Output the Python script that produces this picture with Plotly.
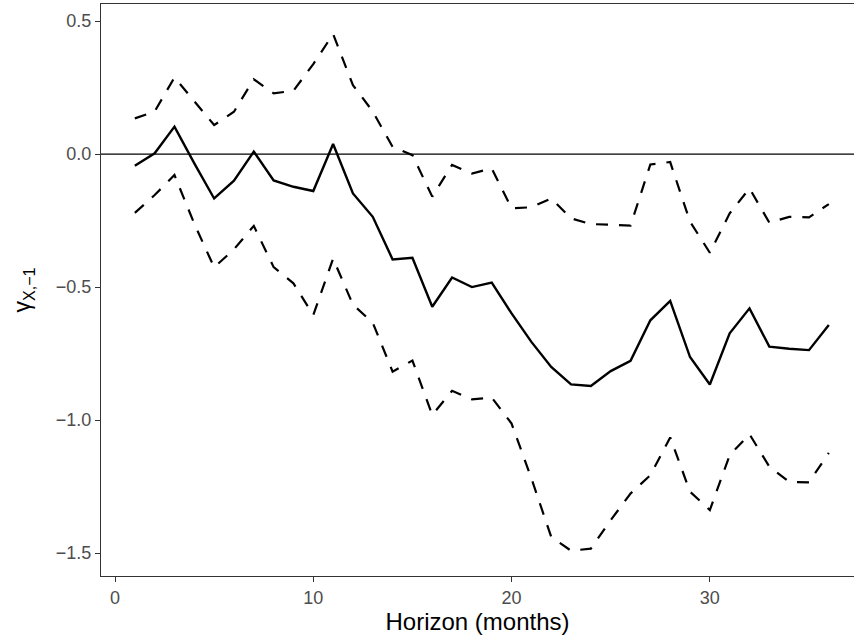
import plotly.graph_objects as go

horizon = list(range(1, 37))
estimate = [-0.044, 0.003, 0.103, -0.035, -0.167, -0.100, 0.009, -0.099, -0.123, -0.139,
            0.038, -0.148, -0.236, -0.396, -0.390, -0.574, -0.464, -0.500, -0.483, -0.599,
            -0.706, -0.800, -0.866, -0.872, -0.816, -0.777, -0.625, -0.552, -0.763, -0.866,
            -0.674, -0.580, -0.724, -0.732, -0.737, -0.643]
upper = [0.134, 0.160, 0.288, 0.200, 0.109, 0.159, 0.281, 0.228, 0.238, 0.338,
         0.451, 0.259, 0.160, 0.027, -0.004, -0.160, -0.041, -0.073, -0.054, -0.204,
         -0.200, -0.167, -0.242, -0.263, -0.265, -0.269, -0.039, -0.030, -0.254, -0.371,
         -0.223, -0.129, -0.258, -0.236, -0.238, -0.188]
lower = [-0.221, -0.154, -0.079, -0.262, -0.426, -0.358, -0.270, -0.425, -0.486, -0.605,
         -0.393, -0.566, -0.634, -0.818, -0.776, -0.981, -0.890, -0.922, -0.915, -1.013,
         -1.219, -1.439, -1.491, -1.483, -1.376, -1.276, -1.207, -1.065, -1.269, -1.338,
         -1.132, -1.053, -1.175, -1.232, -1.234, -1.123]

FONT = "Liberation Sans, Arial, sans-serif"

fig = go.Figure()
fig.add_hline(y=0, line=dict(color="black", width=1.2))
for ys in (upper, lower):
    fig.add_trace(go.Scatter(x=horizon, y=ys, mode="lines",
                             line=dict(color="black", width=2.2, dash="12px,11px"),
                             showlegend=False, hoverinfo="skip"))
fig.add_trace(go.Scatter(x=horizon, y=estimate, mode="lines",
                         line=dict(color="black", width=2.4),
                         showlegend=False, hoverinfo="skip"))

axis_common = dict(showgrid=False, zeroline=False, showline=True, linecolor="#333333",
                   linewidth=1.1, ticks="outside", ticklen=5, tickcolor="#333333",
                   tickwidth=1.1, tickfont=dict(family=FONT, size=18, color="#4d4d4d"))
fig.update_layout(
    width=854, height=640,
    margin=dict(l=101, r=0, t=4, b=64),
    plot_bgcolor="white", paper_bgcolor="white",
    xaxis=dict(range=[-0.706, 37.27], tickvals=[0, 10, 20, 30], mirror=True,
               title=dict(text="Horizon (months)", standoff=3,
                          font=dict(family=FONT, size=24, color="black")),
               **axis_common),
    yaxis=dict(range=[-1.586, 0.564], tickvals=[0.5, 0.0, -0.5, -1.0, -1.5],
               tickformat=".1f",
               title=dict(text="γ<sub>X,−1</sub>", standoff=18,
                          font=dict(family=FONT, size=23, color="black")),
               **axis_common),
)
fig.write_html("out.html")
